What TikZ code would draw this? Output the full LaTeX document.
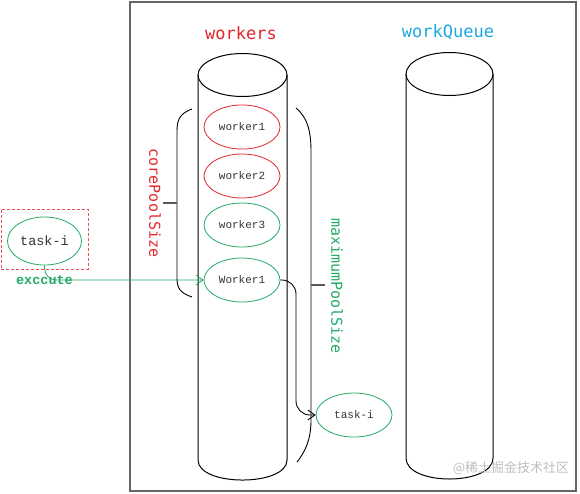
\documentclass[tikz,border=0pt]{standalone}
\usepackage{fontspec}
\newfontfamily\labelfont{DejaVu Sans Mono}
\newfontfamily\cellfont{Liberation Mono}
\newfontfamily\cjkfont{Noto Sans CJK SC}
\usetikzlibrary{arrows.meta,shapes.geometric}
\definecolor{poolred}{HTML}{E4262B}
\definecolor{poolgreen}{HTML}{22AA66}
\definecolor{queuecyan}{HTML}{1BA8DC}
\begin{document}
\begin{tikzpicture}[x=1pt,y=-1pt,>=Latex,
  cell/.style={ellipse,draw=#1,line width=0.8pt,minimum width=76pt,minimum height=44pt,inner sep=1pt,text=black!80,font=\cellfont\fontsize{11}{13}\selectfont},
  poollabel/.style={text=#1,font=\labelfont\fontsize{15}{18}\selectfont}]
\useasboundingbox (0,0) rectangle (580,493);
\draw[black!60,line width=2pt] (130,1.5) rectangle (576,491);
% cylinders
\draw[line width=1pt] (242.5,75) ellipse [x radius=44.5,y radius=21.5];
\draw[line width=1pt] (198,75) -- (198,460) .. controls (198,486.7) and (287,486.7) .. (287,460) -- (287,75);
\draw[line width=1pt] (449.5,74) ellipse [x radius=43.5,y radius=21.5];
\draw[line width=1pt] (406,74) -- (406,458) .. controls (406,486) and (493,486) .. (493,458) -- (493,74);
\node[poollabel=poolred,font=\labelfont\fontsize{17}{20}\selectfont] (lw) at (241,33) {workers};
\node[poollabel=queuecyan,font=\labelfont\fontsize{17}{20}\selectfont] (lq) at (448,32) {workQueue};
% workers
\node[cell=poolred] (w1) at (242,127) {worker1};
\node[cell=poolred] (w2) at (242,176) {worker2};
\node[cell=poolgreen] (w3) at (242,225) {worker3};
\node[cell=poolgreen] (w4) at (242,280) {Worker1};
% brackets
\draw[line width=0.9pt] (192,109) .. controls (178,114) and (177,122) .. (177,132) -- (177,278) .. controls (177,288) and (180,293) .. (192,297);
\draw[black!65,line width=1.5pt] (163,203) -- (177,203);
\node[poollabel=poolred,rotate=-90] (lc) at (155,203) {corePoolSize};
\draw[line width=0.9pt] (296,108) .. controls (308,118) and (311,132) .. (311,152) -- (311,420) .. controls (311,440) and (305,452) .. (297,462);
\draw[black!65,line width=1.5pt] (311,285) -- (325,285);
\node[poollabel=poolgreen,rotate=-90] (lm) at (337,286) {maximumPoolSize};
% tasks
\node[draw=poolred!80,dash pattern=on 3pt off 2pt,line width=0.5pt,minimum width=87pt,minimum height=60pt] (tbox) at (44.5,239) {};
\node[cell=poolgreen,minimum width=74pt,minimum height=48pt,font=\cellfont\fontsize{13.5}{15}\selectfont] (t0) at (44.5,241) {task-i};
\node[cell=poolgreen] (t1) at (354,415) {task-i};
\draw[poolgreen,line width=0.8pt,rounded corners=12pt,-{Straight Barb[length=7pt,width=10pt]}] (t0.south) |- node[pos=0.5,text=poolgreen,font=\cellfont\bfseries\fontsize{13.5}{15}\selectfont] (lx) {exccute} (w4.west);
\coordinate (bend) at (296,280);
\draw[line width=0.9pt,rounded corners=14pt,-{Straight Barb[length=7pt,width=10pt]}] (w4.east) -| (bend |- t1.west) -- (t1.west);
\node[text=black!25,font=\cjkfont\fontsize{13}{15}\selectfont] (wm) at (511,468) {@稀土掘金技术社区};
\end{tikzpicture}
\end{document}
